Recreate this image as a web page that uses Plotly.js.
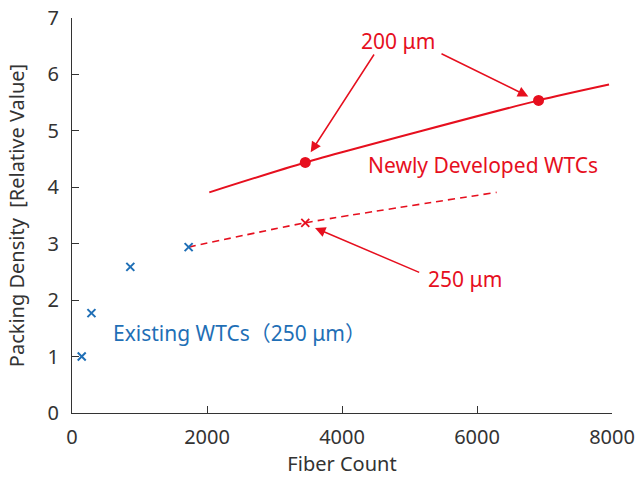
<!DOCTYPE html>
<html>
<head>
<meta charset="utf-8">
<script src="https://cdn.plot.ly/plotly-3.0.1.min.js"></script>
<style>html,body{margin:0;padding:0;background:#fff;}#chart{width:641px;height:477px;}</style>
</head>
<body>
<div id="chart"></div>
<script>
// Existing WTCs (250 µm)
var existingX = [144, 288, 864, 1728];
var existingY = [1.0, 1.77, 2.59, 2.94];
// Newly developed WTCs, 200 µm trend line
var line200X = [2034, 3456, 6912, 7956];
var line200Y = [3.91, 4.44, 5.54, 5.82];
var pts200X = [3456, 6912];
var pts200Y = [4.44, 5.54];
// Newly developed WTCs, 250 µm trend line
var line250X = [1728, 3456, 6291];
var line250Y = [2.94, 3.37, 3.91];
var pts250X = [3456];
var pts250Y = [3.37];

var xTicks = [0, 2000, 4000, 6000, 8000];
var yTicks = [0, 1, 2, 3, 4, 5, 6, 7];

var RED = '#e60f1e';
var BLUE = '#1f6fb6';
var FONT = '"Noto Sans", "Noto Sans CJK JP", sans-serif';

var traces = [
  {x: line250X, y: line250Y, mode: 'lines', line: {color: RED, width: 1.6, dash: '7px,5px', shape: 'spline', smoothing: 0.6}, hoverinfo: 'skip'},
  {x: line200X, y: line200Y, mode: 'lines', line: {color: RED, width: 2, shape: 'spline', smoothing: 0.6}, hoverinfo: 'skip'},
  {x: pts200X, y: pts200Y, mode: 'markers', marker: {symbol: 'circle', size: 11, color: RED}},
  {x: pts250X, y: pts250Y, mode: 'markers', marker: {symbol: 'x-thin', size: 8, line: {color: RED, width: 1.8}}},
  {x: existingX, y: existingY, mode: 'markers', marker: {symbol: 'x-thin', size: 8, line: {color: BLUE, width: 2}}}
];

function arrow(ax, ay, x, y) {
  return {x: x, y: y, ax: ax, ay: ay, xref: 'x', yref: 'y', axref: 'x', ayref: 'y',
    text: '', showarrow: true, arrowhead: 2, arrowsize: 1.4, arrowwidth: 1.5, arrowcolor: RED, standoff: 0};
}

var layout = {
  width: 641, height: 477,
  margin: {l: 72, r: 29, t: 18, b: 64},
  paper_bgcolor: '#fff', plot_bgcolor: '#fff',
  showlegend: false,
  font: {family: FONT, size: 20, color: '#333'},
  xaxis: {
    range: [0, 8000], tickvals: xTicks, ticktext: xTicks.map(String),
    showgrid: false, zeroline: false, showline: true, linecolor: '#333', linewidth: 1,
    ticks: 'inside', ticklen: 7, tickcolor: '#333', tickfont: {size: 20, color: '#333'},
    ticklabelstandoff: 6,
    title: {text: 'Fiber Count', font: {size: 20, color: '#333'}, standoff: 16}
  },
  yaxis: {
    range: [0, 7], tickvals: yTicks, ticktext: yTicks.map(String),
    showgrid: false, zeroline: false, showline: true, linecolor: '#333', linewidth: 1,
    ticks: 'inside', ticklen: 7, tickcolor: '#333', tickfont: {size: 20, color: '#333'},
    ticklabelstandoff: 8,
    title: {text: 'Packing Density  [Relative Value]', font: {size: 20, color: '#333'}, standoff: 17}
  },
  annotations: [
    {x: 4834, y: 6.60, xref: 'x', yref: 'y', text: '200 μm', showarrow: false, font: {size: 21, color: RED}},
    {x: 6093, y: 4.40, xref: 'x', yref: 'y', text: 'Newly Developed WTCs', showarrow: false, font: {size: 21, color: RED}},
    {x: 5822, y: 2.376, xref: 'x', yref: 'y', text: '250 μm', showarrow: false, font: {size: 21, color: RED}},
    {x: 2486, y: 1.423, xref: 'x', yref: 'y', text: 'Existing WTCs（250 μm）', showarrow: false, font: {size: 21, color: BLUE}},
    arrow(4489, 6.38, 3536, 4.62),
    arrow(5452, 6.38, 6760, 5.61),
    arrow(5166, 2.48, 3600, 3.28)
  ]
};

Plotly.newPlot('chart', traces, layout, {staticPlot: true, displayModeBar: false});
</script>
</body>
</html>
